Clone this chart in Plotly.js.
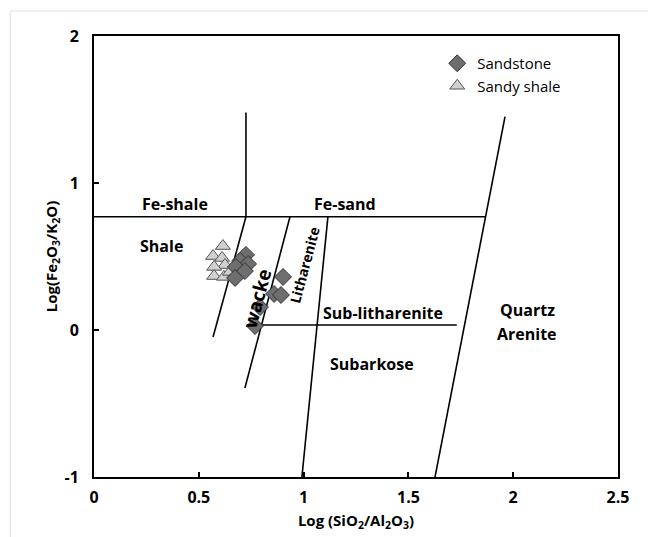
<!DOCTYPE html>
<html>
<head>
<meta charset="utf-8">
<script src="https://cdn.plot.ly/plotly-3.0.1.min.js"></script>
<style>html,body{margin:0;padding:0;background:#fff;}#chart{width:648px;height:537px;}</style>
</head>
<body>
<div id="chart"></div>
<script>
// Sample data: Log(SiO2/Al2O3) vs Log(Fe2O3/K2O)
var sandstoneX = [0.725, 0.697, 0.735, 0.677, 0.720, 0.673, 0.902, 0.859, 0.892, 0.792, 0.768];
var sandstoneY = [0.511, 0.470, 0.449, 0.429, 0.401, 0.354, 0.361, 0.245, 0.238, 0.156, 0.027];
var sandyShaleX = [0.615, 0.568, 0.611, 0.625, 0.573, 0.573, 0.620, 0.649];
var sandyShaleY = [0.571, 0.503, 0.490, 0.442, 0.429, 0.367, 0.361, 0.395];

// Classification field boundaries (Herron 1988)
var feLineX = [0, 1.866];          var feLineY = [0.77, 0.77];
var feVertX = [0.725, 0.725];      var feVertY = [0.77, 1.48];
var shaleLineX = [0.568, 0.725];   var shaleLineY = [-0.048, 0.77];
var wackeLineX = [0.720, 0.935];   var wackeLineY = [-0.395, 0.77];
var lithLineX = [0.992, 1.116];    var lithLineY = [-1, 0.77];
var subLithX = [0.78, 1.731];      var subLithY = [0.034, 0.034];
var quartzLineX = [1.627, 1.961];  var quartzLineY = [-1, 1.452];

var fieldNames = ["Fe-shale", "Fe-sand", "Shale", "wacke", "Litharenite", "Sub-litharenite", "Subarkose", "Quartz", "Arenite"];
var fieldX = [0.386, 1.198, 0.324, 0.780, 1.002, 1.379, 1.326, 2.066, 2.066];
var fieldY = [0.857, 0.857, 0.571, 0.215, 0.442, 0.116, -0.231, 0.136, -0.027];

var lineStyle = {color: '#000', width: 1.6};
function bnd(x, y) {
  return {x: x, y: y, mode: 'lines', line: lineStyle, showlegend: false, hoverinfo: 'skip', type: 'scatter'};
}
var traces = [
  bnd(feLineX, feLineY), bnd(feVertX, feVertY), bnd(shaleLineX, shaleLineY),
  bnd(wackeLineX, wackeLineY), bnd(lithLineX, lithLineY), bnd(subLithX, subLithY),
  bnd(quartzLineX, quartzLineY),
  {x: sandyShaleX, y: sandyShaleY, name: 'Sandy shale', mode: 'markers', type: 'scatter',
   marker: {symbol: 'triangle-up', size: 13, color: '#d0d0d0', line: {color: '#555', width: 1}}},
  {x: sandstoneX, y: sandstoneY, name: 'Sandstone', mode: 'markers', type: 'scatter',
   marker: {symbol: 'diamond', size: 13, color: '#6e6e6e', line: {color: '#333', width: 1}}}
];

var font = '"Open Sans", sans-serif';
var annotations = fieldNames.map(function (t, i) {
  var a = {x: fieldX[i], y: fieldY[i], xref: 'x', yref: 'y', text: '<b>' + t + '</b>',
           showarrow: false, font: {family: font, size: 16, color: '#000'}};
  if (t === 'wacke') { a.textangle = -75; a.font.size = 19; }
  if (t === 'Litharenite') { a.textangle = -75; a.font.size = 14; }
  return a;
});

var layout = {
  width: 648, height: 537,
  margin: {l: 94, r: 30, t: 36, b: 60},
  paper_bgcolor: '#fff', plot_bgcolor: '#fff',
  font: {family: font, color: '#000'},
  xaxis: {range: [0, 2.5], tickvals: [0, 0.5, 1, 1.5, 2, 2.5], ticktext: ['<b>0</b>', '<b>0.5</b>', '<b>1</b>', '<b>1.5</b>', '<b>2</b>', '<b>2.5</b>'],
          ticks: 'inside', ticklen: 5, tickwidth: 2, tickcolor: '#000', showgrid: false, zeroline: false,
          showline: true, linecolor: '#000', linewidth: 2, mirror: true,
          tickfont: {size: 16, family: font}, ticklabelstandoff: 5,
          title: {text: '<b>Log (SiO<sub>2</sub>/Al<sub>2</sub>O<sub>3</sub>)</b>', font: {size: 15, family: font}, standoff: 8}},
  yaxis: {range: [-1, 2], tickvals: [-1, 0, 1, 2], ticktext: ['<b>-1</b>', '<b>0</b>', '<b>1</b>', '<b>2</b>'],
          ticks: 'inside', ticklen: 5, tickwidth: 2, tickcolor: '#000', showgrid: false, zeroline: false,
          showline: true, linecolor: '#000', linewidth: 2, mirror: true,
          tickfont: {size: 16, family: font}, ticklabelstandoff: 10,
          title: {text: '<b>Log(Fe<sub>2</sub>O<sub>3</sub>/K<sub>2</sub>O)</b>', font: {size: 15, family: font}, standoff: 3}},
  legend: {x: 0.655, y: 0.975, xanchor: 'left', yanchor: 'top', bgcolor: 'rgba(0,0,0,0)',
           font: {size: 15, family: font}, itemwidth: 30, tracegroupgap: 0, traceorder: 'reversed'},
  annotations: annotations,
  shapes: [
    {type: 'rect', xref: 'paper', yref: 'paper', x0: -0.160, x1: 1.2, y0: -0.3, y1: 1.0567,
     line: {color: '#e0e0e0', width: 1}, layer: 'below'}
  ],
  showlegend: true
};

Plotly.newPlot('chart', traces, layout, {displayModeBar: false, staticPlot: true});
</script>
</body>
</html>
